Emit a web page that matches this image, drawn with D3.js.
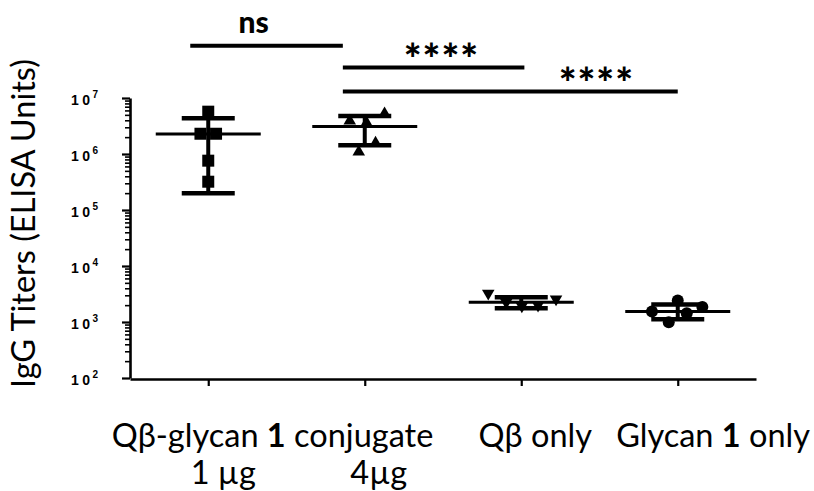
<!DOCTYPE html>
<html>
<head>
<meta charset="utf-8">
<script src="https://cdn.jsdelivr.net/npm/d3@7"></script>
<style>
  body { margin: 0; background: #fff; }
  svg { display: block; }
</style>
</head>
<body>
<svg id="chart" width="814" height="491"></svg>
<script>
// groups on the x axis
const groups = ["conj1", "conj4", "qb", "glycan"];
const shapes = ["square", "triangle", "triangleDown", "circle"];

// individual titers (ELISA units) per group
const titersConj1 = [5.7e6, 2.3e6, 2.3e6, 7.6e5, 3.2e5];
const titersConj4 = [3.9e6, 3.6e6, 5.25e6, 1.57e6, 1.09e6];
const titersQb = [3250, 2250, 1930, 2000, 2570];
const titersGlycan = [1540, 2420, 1850, 1430, 990];

// sideways spread of the dots, in marker widths
const spreadConj1 = [0, -0.65, 0.65, 0, 0];
const spreadConj4 = [-1.25, 0.15, 1.65, 0.9, -0.5];
const spreadQb = [-2.75, -1.25, 0.05, 1.4, 2.9];
const spreadGlycan = [-2.15, 0, 2.05, 0.75, -0.75];

// mean line and error bar ends
const means = [2.28e6, 3.1e6, 2250, 1540];
const upper = [4.34e6, 4.77e6, 2760, 2050];
const lower = [1.99e5, 1.43e6, 1760, 1120];

// y ticks
const majorTicks = [1e2, 1e3, 1e4, 1e5, 1e6, 1e7];
const exponents = ["2", "3", "4", "5", "6", "7"];

// significance brackets: from / to (group index), height (titer), label and its group position
const sigFrom = [-0.115, 0.86, 0.86];
const sigTo = [0.86, 2.02, 3.0];
const sigLevel = [8.6e7, 3.5e7, 1.3e7];
const sigText = ["ns", "****", "****"];
const sigTextAt = [0.29, 1.49, 2.48];

const allTiters = [titersConj1, titersConj4, titersQb, titersGlycan];
const allSpread = [spreadConj1, spreadConj4, spreadQb, spreadGlycan];

const svg = d3.select("#chart");
const plotLeft = 130, plotRight = 756, plotTop = 98, plotBottom = 378;

const x = d3.scalePoint().domain(groups).range([plotLeft, plotRight]).padding(0.5);
const xi = d3.scaleLinear().domain([0, 3]).range([x(groups[0]), x(groups[3])]);
const y = d3.scaleLog().domain([1e2, 1e7]).range([plotBottom, plotTop]);

const markerW = 12;

// minor ticks 2..9 in each decade
const minorTicks = [];
for (let e = 2; e < 7; e++) {
  for (let m = 2; m <= 9; m++) minorTicks.push(m * Math.pow(10, e));
}

// y axis
const yMinor = svg.append("g").attr("transform", `translate(${plotLeft},0)`)
  .call(d3.axisLeft(y).tickValues(minorTicks).tickSize(5).tickSizeOuter(0).tickFormat(""));
yMinor.select(".domain").remove();
yMinor.selectAll(".tick line").attr("stroke", "#000").attr("stroke-width", 1.6);

const yAxis = svg.append("g").attr("transform", `translate(${plotLeft},0)`)
  .call(d3.axisLeft(y).tickValues(majorTicks).tickSize(8).tickSizeOuter(0).tickFormat(""));
yAxis.select(".domain").attr("stroke", "#000").attr("stroke-width", 2.6);
yAxis.selectAll(".tick line").attr("stroke", "#000").attr("stroke-width", 2.2);

const yLabels = svg.append("g")
  .attr("font-family", "'Liberation Sans', Arial, sans-serif")
  .attr("font-weight", "bold")
  .attr("fill", "#000");
majorTicks.forEach((v, i) => {
  const t = yLabels.append("text")
    .attr("x", 71)
    .attr("y", y(v) + 7)
    .attr("font-size", 14);
  t.append("tspan").attr("letter-spacing", 3.5).text("10");
  t.append("tspan").attr("dx", -1).attr("dy", -7).attr("font-size", 10).text(exponents[i]);
});

// x axis
const xAxis = svg.append("g").attr("transform", `translate(0,${plotBottom + 1})`)
  .call(d3.axisBottom(x).tickSize(7).tickSizeOuter(0).tickFormat(""));
xAxis.select(".domain").attr("stroke", "#000").attr("stroke-width", 2.6);
xAxis.selectAll(".tick line").attr("stroke", "#000").attr("stroke-width", 2.2);

// y title
svg.append("text")
  .attr("transform", `translate(35,${(62 + 385) / 2}) rotate(-90)`)
  .attr("text-anchor", "middle")
  .attr("font-family", "Lato, sans-serif")
  .attr("font-size", 32.5)
  .attr("fill", "#000")
  .text("IgG Titers (ELISA Units)");

// category labels
const catFont = "Lato, sans-serif";
const catSize = 32.5;
const l1 = svg.append("text")
  .attr("x", (x("conj1") + x("conj4")) / 2 - 14)
  .attr("y", 447)
  .attr("text-anchor", "middle")
  .attr("font-family", catFont).attr("font-size", catSize);
l1.append("tspan").text("Qβ-glycan ");
l1.append("tspan").attr("font-weight", "bold").text("1");
l1.append("tspan").text(" conjugate");

svg.append("text")
  .attr("x", x("conj1") + 15).attr("y", 484)
  .attr("text-anchor", "middle")
  .attr("font-family", catFont).attr("font-size", catSize)
  .text("1 µg");
svg.append("text")
  .attr("x", x("conj4") + 14).attr("y", 484)
  .attr("text-anchor", "middle")
  .attr("font-family", catFont).attr("font-size", catSize)
  .text("4µg");

svg.append("text")
  .attr("x", x("qb") + 14).attr("y", 447)
  .attr("text-anchor", "middle")
  .attr("font-family", catFont).attr("font-size", catSize)
  .text("Qβ only");

const l4 = svg.append("text")
  .attr("x", 810).attr("y", 447)
  .attr("text-anchor", "end")
  .attr("font-family", catFont).attr("font-size", catSize);
l4.append("tspan").text("Glycan ");
l4.append("tspan").attr("font-weight", "bold").text("1");
l4.append("tspan").text(" only");

// dots
function symbolFor(shape) {
  if (shape === "square") return d3.symbol(d3.symbolSquare, markerW * markerW)();
  if (shape === "circle") return d3.symbol(d3.symbolCircle, Math.PI * 36)();
  return d3.symbol(d3.symbolTriangle, 68)();
}

groups.forEach((g, gi) => {
  const pts = allTiters[gi].map((v, i) => ({ v, s: allSpread[gi][i] }));
  svg.append("g").selectAll("path")
    .data(pts)
    .join("path")
    .attr("d", symbolFor(shapes[gi]))
    .attr("transform", d => {
      const rot = shapes[gi] === "triangleDown" ? " rotate(180)" : "";
      return `translate(${x(g) + d.s * markerW},${y(d.v)})${rot}`;
    })
    .attr("fill", "#000");
});

// mean and error bars
const bars = svg.append("g").attr("stroke", "#000").attr("fill", "none");
groups.forEach((g, gi) => {
  const cx = x(g);
  bars.append("line")
    .attr("x1", cx).attr("x2", cx)
    .attr("y1", y(upper[gi])).attr("y2", y(lower[gi]))
    .attr("stroke-width", 4);
  [upper[gi], lower[gi]].forEach(v => {
    bars.append("line")
      .attr("x1", cx - 26.5).attr("x2", cx + 26.5)
      .attr("y1", y(v)).attr("y2", y(v))
      .attr("stroke-width", 4.5);
  });
  bars.append("line")
    .attr("x1", cx - 52.5).attr("x2", cx + 52.5)
    .attr("y1", y(means[gi])).attr("y2", y(means[gi]))
    .attr("stroke-width", 3);
});

// significance brackets
const sig = svg.append("g");
sigText.forEach((t, i) => {
  const isNs = t === "ns";
  sig.append("line")
    .attr("x1", xi(sigFrom[i])).attr("x2", xi(sigTo[i]))
    .attr("y1", y(sigLevel[i])).attr("y2", y(sigLevel[i]))
    .attr("stroke", "#000").attr("stroke-width", 4);
  sig.append("text")
    .attr("x", xi(sigTextAt[i]))
    .attr("y", y(sigLevel[i]) + (isNs ? -13 : 6))
    .attr("text-anchor", "middle")
    .attr("font-family", "Lato, sans-serif")
    .attr("font-weight", "900")
    .attr("font-size", isNs ? 30 : 42)
    .attr("letter-spacing", isNs ? 0 : 1)
    .attr("fill", "#000")
    .text(t);
});
</script>
</body>
</html>
